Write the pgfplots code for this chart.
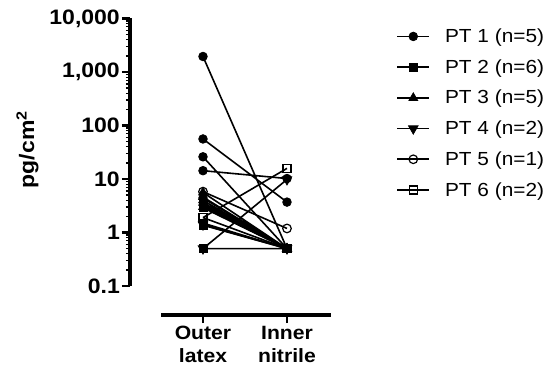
\documentclass[border=0pt]{standalone}
\usepackage{fontspec}
\setmainfont[FakeStretch=1.1]{Liberation Sans}
\usepackage{pgfplots}
\pgfplotsset{compat=1.18}
\newcommand\tlf{\fontsize{19.3}{22.5}\selectfont\bfseries}
\newcommand\ytf{\fontsize{21}{24}\selectfont\bfseries}
\newcommand\lgf{\fontsize{19}{22}\selectfont}
\begin{document}
\begin{tikzpicture}
\useasboundingbox (-130bp,-106bp) rectangle (420bp,286bp);
\begin{axis}[
  at={(0bp,0bp)}, anchor=south west, scale only axis,
  width=201bp, height=267.5bp,
  xmin=-0.869, xmax=1.524,
  ymode=log, ymin=0.1, ymax=10000,
  axis y line*=left, axis x line=none, clip=false,
  axis line style={line width=3.2bp},
  ytick={0.1,1,10,100,1000,10000},
  yticklabels={{\ytf 0.1},{\ytf 1},{\ytf 10},{\ytf 100},{\ytf 1,000},{\ytf 10,000}},
  /pgf/number format/assume math mode=true,
  yticklabel style={font=\ytf, inner xsep=2bp},
  tick align=outside,
  major tick length=8bp, minor tick length=4bp,
  major tick style={line width=2.5bp, black},
  minor tick style={line width=1.3bp, black},
  ylabel={\ytf pg/cm\textsuperscript{2}},
  ylabel style={at={(axis description cs:-0.51,0.51)}, anchor=center, font=\ytf},
  unbounded coords=jump,
  legend style={at={(axis description cs:1.31,0.977)}, anchor=north west, draw=none, fill=none,
    font=\lgf, row sep=11.5bp, nodes={inner sep=2bp},
    /tikz/every odd column/.style={column sep=13bp}},
  legend cell align=left,
  legend image code/.code={\draw[mark repeat=2,mark phase=2] plot coordinates {(0bp,0bp) (16bp,0bp) (32bp,0bp)};},
  every axis plot/.append style={black, line width=1.6bp},
]
\addplot[mark=*, mark size=4.3bp, mark options={solid, fill=black, line width=0.8bp}] coordinates {
 (0,1950) (1,0.5) (0,nan)
 (0,56) (1,3.7) (0,nan)
 (0,26) (1,0.5) (0,nan)
 (0,14.3) (1,10.2) (0,nan)
 (0,4.4) (1,0.5)
};
\addlegendentry{\lgf PT 1 (n=5)}
\addplot[mark=square*, mark size=4bp, mark options={solid, fill=black, line width=0.8bp}] coordinates {
 (0,0.5) (1,0.5) (0,nan)
 (0,3.2) (1,0.5) (0,nan)
 (0,1.37) (1,0.5) (0,nan)
 (0,2.9) (1,0.5) (0,nan)
 (0,1.5) (1,0.5) (0,nan)
 (0,3.4) (1,0.5)
};
\addlegendentry{\lgf PT 2 (n=6)}
\addplot[mark=triangle*, mark size=5bp, mark options={solid, fill=black, line width=0.8bp}] coordinates {
 (0,5.6) (1,0.5) (0,nan)
 (0,4.6) (1,0.5) (0,nan)
 (0,4.0) (1,0.5) (0,nan)
 (0,3.6) (1,0.5) (0,nan)
 (0,3.0) (1,0.5)
};
\addlegendentry{\lgf PT 3 (n=5)}
\addplot[mark=triangle*, mark size=5.5bp, mark options={solid, fill=black, rotate=180, line width=0.8bp}] coordinates {
 (0,0.5) (1,9.8) (0,nan)
 (0,1.4) (1,0.5)
};
\addlegendentry{\lgf PT 4 (n=2)}
\addplot[mark=o, mark size=4.3bp, mark options={solid, line width=1.2bp}] coordinates {
 (0,5.8) (1,1.19)
};
\addlegendentry{\lgf PT 5 (n=1)}
\addplot[mark=square, mark size=4bp, mark options={solid, line width=1.2bp}] coordinates {
 (0,1.9) (1,15.8) (0,nan)
 (0,1.9) (1,0.5)
};
\addlegendentry{\lgf PT 6 (n=2)}
\end{axis}
\begin{axis}[
  at={(31bp,-29bp)}, anchor=south west, scale only axis,
  width=170bp, height=10bp,
  xmin=-0.5, xmax=1.524, ymin=0, ymax=1,
  axis x line*=bottom, axis y line=none,
  axis line style={line width=3.2bp},
  xtick={0,1}, xticklabels={{Outer\\latex},{Inner\\nitrile}},
  xticklabel style={align=center, font=\tlf},
  tick align=outside, major tick length=8bp,
  major tick style={line width=2.5bp, black},
]
\addplot[draw=none] coordinates {(0,0.5)};
\end{axis}
\end{tikzpicture}
\end{document}
